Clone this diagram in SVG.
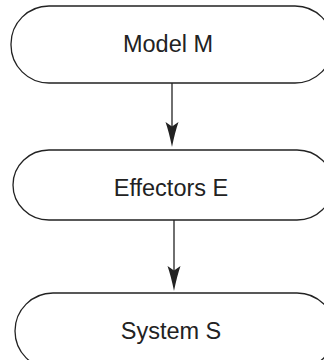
<svg xmlns="http://www.w3.org/2000/svg" width="324" height="360" viewBox="0 0 324 360">
<style>
.node{fill:#fff;stroke:#222;stroke-width:1.3}
.lbl{font-family:"Liberation Sans",Arial,Helvetica,sans-serif;font-size:23.5px;fill:#222;text-anchor:middle}
.edge{stroke:#222;stroke-width:1.3;fill:none}
.head{fill:#222;stroke:none}
</style>
<rect width="324" height="360" fill="#fff"/>
<g id="model">
<rect class="node" x="11" y="6" width="322" height="77" rx="38" ry="38"/>
<text class="lbl" x="168" y="51.5">Model M</text>
</g>
<g id="effectors">
<rect class="node" x="13" y="150" width="320" height="70" rx="36" ry="35"/>
<text class="lbl" x="171" y="196">Effectors E</text>
</g>
<g id="system">
<rect class="node" x="15" y="293" width="320" height="76" rx="38" ry="38"/>
<text class="lbl" x="171" y="339">System S</text>
</g>
<g id="connectors">
<line class="edge" x1="172" y1="83" x2="172" y2="130"/>
<path class="head" d="M172 147 Q169 132 165.5 122 L172 126.5 L178.5 122 Q175 132 172 147 Z"/>
<line class="edge" x1="174" y1="220" x2="174" y2="272"/>
<path class="head" d="M174 291 Q171 276 167.5 266 L174 270.5 L180.5 266 Q177 276 174 291 Z"/>
</g>
</svg>
